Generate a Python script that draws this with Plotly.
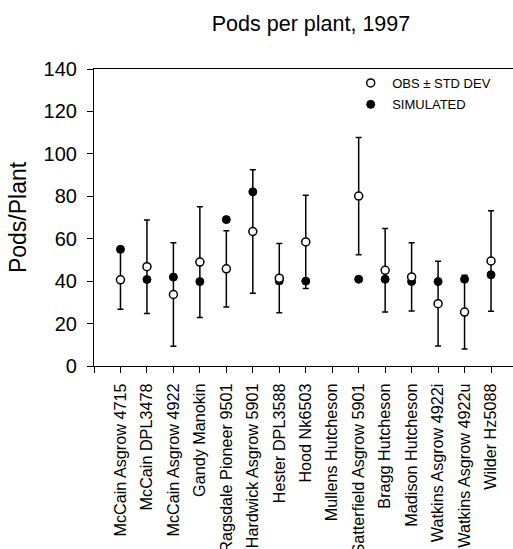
import plotly.graph_objects as go

# Cultivar / site labels along the x axis
cultivars = [
    "McCain Asgrow 4715", "McCain DPL3478", "McCain Asgrow 4922", "Gandy Manokin",
    "Ragsdale Pioneer 9501", "Hardwick Asgrow 5901", "Hester DPL3588", "Hood Nk6503",
    "Mullens Hutcheson", "Satterfield Asgrow 5901", "Bragg Hutcheson", "Madison Hutcheson",
    "Watkins Asgrow 4922i", "Watkins Asgrow 4922u", "Wilder Hz5088",
]

# Observed pods per plant and their standard deviation
observed = [40.6, 46.8, 33.7, 49.0, 45.8, 63.4, 41.4, 58.5, None, 80.1, 45.1, 42.0, 29.4, 25.4, 49.5]
std_dev = [13.8, 22.0, 24.4, 26.1, 18.0, 29.1, 16.3, 22.0, None, 27.6, 19.7, 16.1, 20.0, 17.4, 23.7]

# Simulated pods per plant
simulated = [55.0, 40.8, 41.9, 39.8, 69.0, 82.1, 40.1, 40.0, None, 40.9, 40.9, 39.8, 39.8, 40.9, 43.0]

y_ticks = [0, 20, 40, 60, 80, 100, 120, 140]

positions = list(range(1, len(cultivars) + 1))
FONT = "Liberation Sans, Arial, Helvetica, sans-serif"

fig = go.Figure()

fig.add_trace(go.Scatter(
    x=positions, y=simulated, mode="markers", name="SIMULATED",
    legendgroup="sim", legendrank=2,
    marker=dict(symbol="circle", size=8, color="black", line=dict(color="black", width=1)),
))

fig.add_trace(go.Scatter(
    x=positions, y=observed, mode="markers", name="OBS \u00b1 STD DEV",
    legendgroup="obs", legendrank=1,
    marker=dict(symbol="circle", size=8, color="white", line=dict(color="black", width=1.5)),
    error_y=dict(type="data", array=std_dev, visible=True, color="black", thickness=1.5, width=3),
))

fig.update_layout(
    width=513, height=549,
    margin=dict(l=93.5, r=0, t=69, b=183, pad=0),
    paper_bgcolor="white", plot_bgcolor="white",
    font=dict(family=FONT, color="black"),
    title=dict(text="Pods per plant, 1997", x=311 / 513, xanchor="center",
               y=1 - 23 / 549, yanchor="middle", font=dict(size=21.5, family=FONT)),
    showlegend=True,
    legend=dict(x=(349 - 93.5) / 419.5, xanchor="left", y=1 + 1 / 297, yanchor="top",
                bgcolor="rgba(0,0,0,0)", font=dict(size=13, family=FONT),
                traceorder="grouped", tracegroupgap=1.5, itemwidth=33),
    xaxis=dict(
        range=[0, (513 - 93.5) / 26.5], automargin=False,
        tickmode="array", tickvals=[0] + positions, ticktext=[""] + cultivars,
        tickangle=-90, ticks="outside", ticklen=6, tickwidth=1, tickcolor="black",
        tickfont=dict(size=16.2, family=FONT), ticklabelstandoff=4,
        showline=True, linecolor="black", linewidth=1.2, mirror=True,
        showgrid=False, zeroline=False,
    ),
    yaxis=dict(
        range=[0, 140], tickmode="array", tickvals=y_ticks, automargin=False,
        ticks="outside", ticklen=6, tickwidth=1, tickcolor="black",
        tickfont=dict(size=20, family=FONT), ticklabelstandoff=6,
        showline=True, linecolor="black", linewidth=1.2,
        showgrid=False, zeroline=False,
        title=dict(text="Pods/Plant", font=dict(size=23, family=FONT), standoff=10),
    ),
)

fig.write_html("out.html")
